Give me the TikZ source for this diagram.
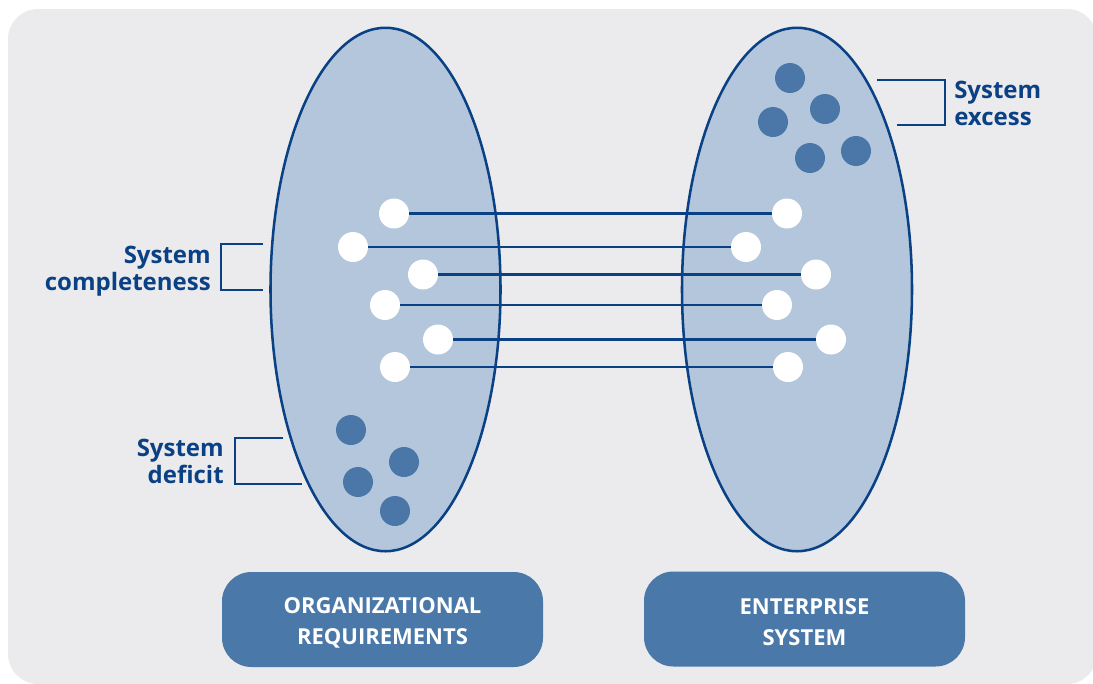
\documentclass[tikz,border=0pt]{standalone}
\usepackage{fontspec}
\setmainfont{Open Sans}
\usetikzlibrary{shapes.geometric}
\definecolor{bgc}{HTML}{EBEBEE}
\definecolor{ellfill}{HTML}{B3C6DB}
\definecolor{navy}{HTML}{0A4185}
\definecolor{dotc}{HTML}{4A77A7}
\definecolor{boxc}{HTML}{4A78A8}
\tikzset{
  setell/.style={ellipse, draw=navy, line width=1.9pt, fill=ellfill, inner sep=0pt,
    minimum width=172.5pt, minimum height=392.6pt},
  wdot/.style={circle, fill=white, inner sep=0pt, minimum size=22.5pt},
  ddot/.style={circle, fill=dotc, inner sep=0pt, minimum size=22.5pt},
  conn/.style={draw=navy, line width=1.9pt},
  brack/.style={draw=navy, line width=1.6pt},
  lbl/.style={text=navy, font=\fontsize{18}{20.25}\selectfont\bfseries, inner sep=0pt},
  catbox/.style={fill=boxc, rounded corners=22pt, minimum width=240.75pt, minimum height=71.25pt},
  cattext/.style={text=white, align=center, inner sep=0pt, font=\fontsize{16.5}{23.25}\selectfont\bfseries}
}
\begin{document}
\begin{tikzpicture}[x=0.75pt,y=-0.75pt]
\useasboundingbox (0,0) rectangle (1093,683);
\clip (0,0) rectangle (1093,683);
\fill[bgc, rounded corners=22.5pt] (8,9) rectangle (1097,684);

% ellipses
\node[setell] (le) at (385.5,289.5) {};
\node[setell] (re) at (797,289.5) {};

% white dots
\node[wdot] (l1) at (394,213.5) {};
\node[wdot] (l2) at (353,247) {};
\node[wdot] (l3) at (423,274.5) {};
\node[wdot] (l4) at (385,305) {};
\node[wdot] (l5) at (438,339.5) {};
\node[wdot] (l6) at (395,367) {};
\node[wdot] (r1) at (787,213.5) {};
\node[wdot] (r2) at (746,247) {};
\node[wdot] (r3) at (816,274.5) {};
\node[wdot] (r4) at (777,305) {};
\node[wdot] (r5) at (831,339.5) {};
\node[wdot] (r6) at (788,367) {};

\foreach \i in {1,...,6} \draw[conn] (l\i.east) -- (r\i.west);

% dark dots
\node[ddot] (d1) at (351,430) {};
\node[ddot] (d2) at (404,462) {};
\node[ddot] (d3) at (358,482) {};
\node[ddot] (d4) at (395,511) {};
\node[ddot] (e1) at (790,78) {};
\node[ddot] (e2) at (825,109) {};
\node[ddot] (e3) at (773,122) {};
\node[ddot] (e4) at (810,158) {};
\node[ddot] (e5) at (856,151) {};

% labels
\node[lbl, align=right, anchor=east] (comp) at (211,271) {System\\completeness};
\draw[brack] (263,244) -- (221,244) -- (221,290) -- (263,290);
\node[lbl, align=right, anchor=east] (def) at (224,461) {System\\deficit};
\draw[brack] (283,438) -- (235,438) -- (235,484) -- (302,484);
\node[lbl, align=left, anchor=west] (exc) at (954,103.5) {System\\excess};
\draw[brack] (877,80) -- (945,80) -- (945,125) -- (897,125);

% boxes
\node[catbox] (org) at (382.5,619.5) {};
\node[cattext] (orgt) at (382.5,622.5) {ORGANIZATIONAL\\REQUIREMENTS};
\node[catbox] (ent) at (804.5,619) {};
\node[cattext] (entt) at (804.5,622) {ENTERPRISE\\SYSTEM};
\end{tikzpicture}
\end{document}
